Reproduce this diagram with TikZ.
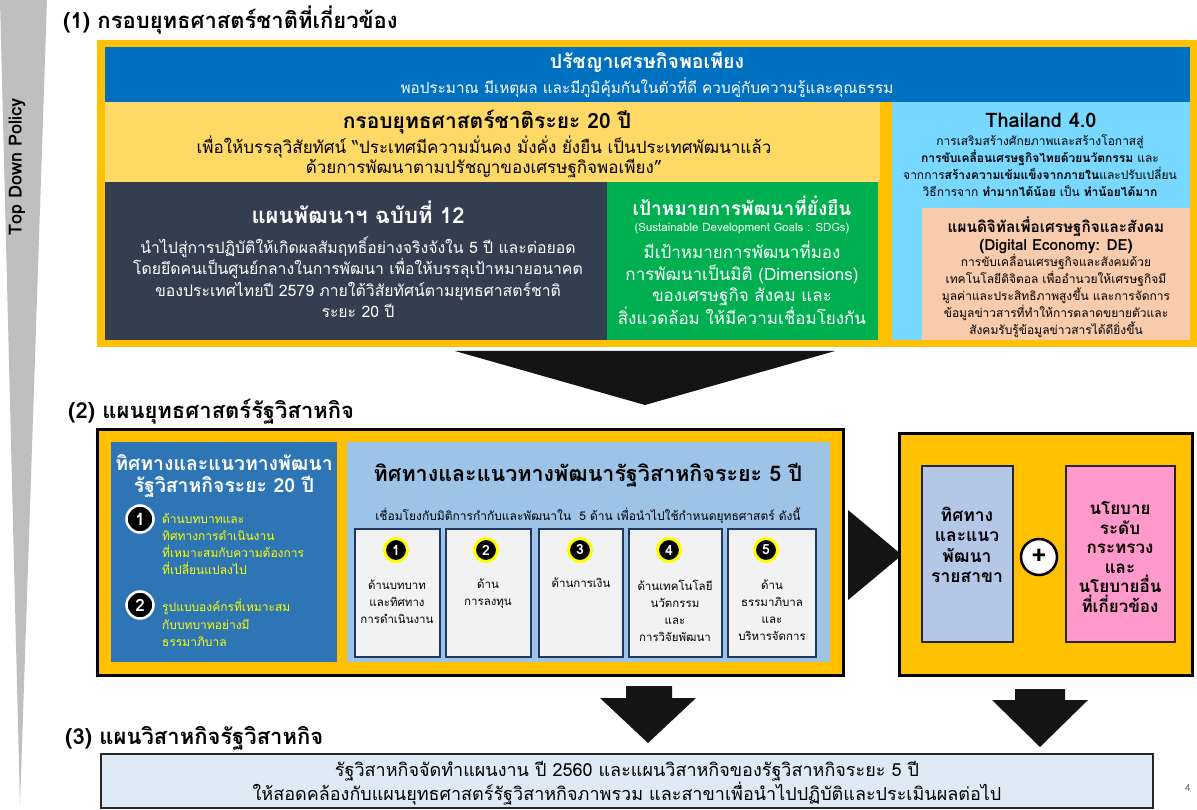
\documentclass[tikz,border=0pt]{standalone}
\usepackage{fontspec}
\setmainfont[Script=Thai]{Loma}
\newcommand\fsz[2]{\fontsize{#1}{#2}\selectfont}
\definecolor{orng}{HTML}{FFC000}
\definecolor{sufblue}{HTML}{0070C0}
\definecolor{ltyel}{HTML}{FFD966}
\definecolor{skyb}{HTML}{78D8FF}
\definecolor{peach}{HTML}{F8CBAD}
\definecolor{darkn}{HTML}{333F50}
\definecolor{grn}{HTML}{00B050}
\definecolor{blue2}{HTML}{2E75B6}
\definecolor{ltblue2}{HTML}{9DC3E6}
\definecolor{boxg}{HTML}{F2F2F2}
\definecolor{navy}{HTML}{1F3864}
\definecolor{bluegray}{HTML}{B4C7E7}
\definecolor{pinkb}{HTML}{FF99CC}
\definecolor{palebl}{HTML}{DEEBF7}
\definecolor{graytri}{HTML}{BFBFBF}
\definecolor{borderg}{HTML}{262626}
\definecolor{yel}{HTML}{FFFF00}
\begin{document}
\begin{tikzpicture}[x=1pt,y=-1pt,
  txt/.style={inner sep=0pt, align=center},
  sectitle/.style={txt, anchor=west, font=\fsz{22}{26}\bfseries},
  wcirc/.style={circle, fill=black, draw=white, line width=2.5pt, text=white, inner sep=0pt, minimum size=27pt, font=\fsz{17}{20}\bfseries},
  ycirc/.style={circle, fill=black, draw=yel, line width=3pt, text=white, inner sep=0pt, minimum size=23pt, font=\fsz{14}{16}\bfseries},
  sbox/.style={fill=boxg, draw=navy, line width=1.5pt},
  boxtxt/.style={txt, font=\fsz{11.5}{17}},
  bigarrow/.style={fill=black!92},
]
\useasboundingbox (0,0) rectangle (1197,810);
\fill[white] (0,0) rectangle (1197,810);

% left wedge
\fill[graytri] (0,0) -- (47,0) -- (20,805) -- cycle;
\node[txt, rotate=90, font=\fsz{18}{20}\bfseries] (tdp) at (17,167) {Top Down Policy};

% ---------- section 1 ----------
\node[sectitle] (t1) at (63,20) {(1) กรอบยุทธศาสตร์ชาติที่เกี่ยวข้อง};
\fill[orng] (97,40) rectangle (1197,347);
\fill[sufblue] (105,47) rectangle (1190,102);
\node[txt, text=white, font=\fsz{19.5}{22}\bfseries] (suf) at (647,62) {ปรัชญาเศรษกิจพอเพียง};
\node[txt, text=white, font=\fsz{15.3}{18}] (sufd) at (647,88) {พอประมาณ มีเหตุผล และมีภูมิคุ้มกันในตัวที่ดี ควบคู่กับความรู้และคุณธรรม};

\fill[ltyel] (105,102) rectangle (880,182);
\node[txt, font=\fsz{21}{24}\bfseries] (nat) at (487,122) {กรอบยุทธศาสตร์ชาติระยะ 20 ปี};
\node[txt, font=\fsz{17}{20}] (natd) at (484,157) {เพื่อให้บรรลุวิสัยทัศน์ “ประเทศมีความมั่นคง มั่งคั่ง ยั่งยืน เป็นประเทศพัฒนาแล้ว\\ด้วยการพัฒนาตามปรัชญาของเศรษฐกิจพอเพียง”};

\fill[skyb] (892,102) rectangle (1190,340);
\node[txt, font=\fsz{20}{22}\bfseries] (th4) at (1041,120) {Thailand 4.0};
\node[txt, font=\fsz{12}{17}] (th4d) at (1040,166) {การเสริมสร้างศักยภาพและสร้างโอกาสสู่\\\textbf{การขับเคลื่อนเศรษฐกิจไทยด้วยนวัตกรรม} และ\\จากการ\textbf{สร้างความเข้มแข็งจากภายใน}และปรับเปลี่ยน\\วิธีการจาก \textbf{ทำมากได้น้อย} เป็น \textbf{ทำน้อยได้มาก}};

\fill[peach] (922,208) rectangle (1190,340);
\node[txt, font=\fsz{15.3}{18.5}\bfseries] (de) at (1056,235) {แผนดิจิทัลเพื่อเศรษฐกิจและสังคม\\(Digital Economy: DE)};
\node[txt, font=\fsz{12}{17}] (ded) at (1056,296) {การขับเคลื่อนเศรษฐกิจและสังคมด้วย\\เทคโนโลยีดิจิตอล เพื่ออำนวยให้เศรษฐกิจมี\\มูลค่าและประสิทธิภาพสูงขึ้น และการจัดการ\\ข้อมูลข่าวสารที่ทำให้การตลาดขยายตัวและ\\สังคมรับรู้ข้อมูลข่าวสารได้ดียิ่งขึ้น};

\fill[darkn] (105,182) rectangle (607,340);
\node[txt, text=white, font=\fsz{22}{24}\bfseries] (p12) at (358,212) {แผนพัฒนาฯ ฉบับที่ 12};
\node[txt, text=white, font=\fsz{15.8}{21.5}] (p12d) at (358,277) {นำไปสู่การปฏิบัติให้เกิดผลสัมฤทธิ์อย่างจริงจังใน 5 ปี และต่อยอด\\โดยยึดคนเป็นศูนย์กลางในการพัฒนา เพื่อให้บรรลุเป้าหมายอนาคต\\ของประเทศไทยปี 2579 ภายใต้วิสัยทัศน์ตามยุทธศาสตร์ชาติ\\ระยะ 20 ปี};

\fill[grn] (607,182) rectangle (878,340);
\node[txt, text=white, font=\fsz{19}{21}\bfseries] (sdg) at (742,206) {เป้าหมายการพัฒนาที่ยั่งยืน};
\node[txt, text=white, font=\fsz{11.5}{13}] (sdgs) at (742,229) {(Sustainable Development Goals : SDGs)};
\node[txt, text=white, font=\fsz{17}{21.5}] (sdgd) at (742,283) {มีเป้าหมายการพัฒนาที่มอง\\การพัฒนาเป็นมิติ (Dimensions)\\ของเศรษฐกิจ สังคม และ\\สิ่งแวดล้อม ให้มีความเชื่อมโยงกัน};

% big down arrow
\fill[bigarrow] (455,351) -- (835,351) -- (645,405) -- cycle;

% ---------- section 2 ----------
\node[sectitle] (t2) at (68,412) {(2) แผนยุทธศาสตร์รัฐวิสาหกิจ};
\fill[black] (96,428) rectangle (845,677);
\fill[orng] (99,431) rectangle (842,674);
\fill[blue2] (111,442) rectangle (337,662);
\node[txt, text=white, font=\fsz{19.4}{21.5}\bfseries] (l20) at (224,476) {ทิศทางและแนวทางพัฒนา\\รัฐวิสาหกิจระยะ 20 ปี};
\node[wcirc] (c1) at (140,519) {1};
\node[txt, anchor=west, align=left, text=yel, font=\fsz{12}{17.3}] (i1) at (162,544) {ด้านบทบาทและ\\ทิศทางการดำเนินงาน\\ที่เหมาะสมกับความต้องการ\\ที่เปลี่ยนแปลงไป};
\node[wcirc] (c2) at (140,605) {2};
\node[txt, anchor=west, align=left, text=yel, font=\fsz{12}{17.5}] (i2) at (162,623) {รูปแบบองค์กรที่เหมาะสม\\กับบทบาทอย่างมี\\ธรรมาภิบาล};

\fill[ltblue2] (347,442) rectangle (830,662);
\node[txt, font=\fsz{21.5}{24}\bfseries] (l5) at (588,475) {ทิศทางและแนวทางพัฒนารัฐวิสาหกิจระยะ 5 ปี};
\node[txt, font=\fsz{12}{14}] (l5s) at (588,516) {เชื่อมโยงกับมิติการกำกับและพัฒนาใน~~5 ด้าน เพื่อนำไปใช้กำหนดยุทธศาสตร์ ดังนี้};

\draw[sbox] (355,529) rectangle (440,657);
\draw[sbox] (446,529) rectangle (531,657);
\draw[sbox] (539,529) rectangle (623,657);
\draw[sbox] (629,529) rectangle (722,657);
\draw[sbox] (728,529) rectangle (816,657);
\node[ycirc] (d1) at (396,550) {1};
\node[ycirc] (d2) at (486,550) {2};
\node[ycirc] (d3) at (580,550) {3};
\node[ycirc] (d4) at (669,550) {4};
\node[ycirc] (d5) at (766,550) {5};
\node[boxtxt] (b1) at (397,602) {ด้านบทบาท\\และทิศทาง\\การดำเนินงาน};
\node[boxtxt] (b2) at (488,593.5) {ด้าน\\การลงทุน};
\node[boxtxt] (b3) at (581,583) {ด้านการเงิน};
\node[boxtxt] (b4) at (675,610.5) {ด้านเทคโนโลยี\\นวัตกรรม\\และ\\การวิจัยพัฒนา};
\node[boxtxt] (b5) at (772,610.5) {ด้าน\\ธรรมาภิบาล\\และ\\บริหารจัดการ};

% right arrow
\fill[bigarrow] (848,510) -- (902,555) -- (848,600) -- cycle;

% right frame
\fill[black] (898,432) rectangle (1194,677);
\fill[orng] (901,435) rectangle (1191,674);
\filldraw[fill=bluegray, draw=borderg, line width=1.5pt] (922,466) rectangle (1013,642);
\filldraw[fill=pinkb, draw=borderg, line width=1.5pt] (1066,466) rectangle (1175,642);
\node[txt, font=\fsz{17.5}{20.5}\bfseries] (sec) at (967,545) {ทิศทาง\\และแนว\\พัฒนา\\รายสาขา};
\node[txt, font=\fsz{17}{19.6}\bfseries] (pol) at (1120,557) {นโยบาย\\ระดับ\\กระทรวง\\และ\\นโยบายอื่น\\ที่เกี่ยวข้อง};
\node[circle, fill=white, draw=black, line width=2.5pt, minimum size=36pt, inner sep=0pt, font=\fsz{26}{28}\bfseries] (plus) at (1039,557) {+};

% down arrows
\fill[bigarrow] (626,686) -- (672,686) -- (672,698) -- (696,698) -- (648,743) -- (600,698) -- (626,698) -- cycle;
\fill[bigarrow] (1015,689) -- (1065,689) -- (1065,700) -- (1088,700) -- (1040,747) -- (992,700) -- (1015,700) -- cycle;

% ---------- section 3 ----------
\node[sectitle] (t3) at (65,738) {(3) แผนวิสาหกิจรัฐวิสาหกิจ};
\filldraw[fill=palebl, draw=borderg, line width=2pt] (101,754) rectangle (1153,808);
\node[txt, font=\fsz{18}{23}] (p3) at (627,783) {รัฐวิสาหกิจจัดทำแผนงาน ปี 2560 และแผนวิสาหกิจของรัฐวิสาหกิจระยะ 5 ปี\\ให้สอดคล้องกับแผนยุทธศาสตร์รัฐวิสาหกิจภาพรวม และสาขาเพื่อนำไปปฏิบัติและประเมินผลต่อไป};
\node[txt, text=black!55, font=\fsz{10}{12}] (pg) at (1188,788) {4};
\end{tikzpicture}
\end{document}
